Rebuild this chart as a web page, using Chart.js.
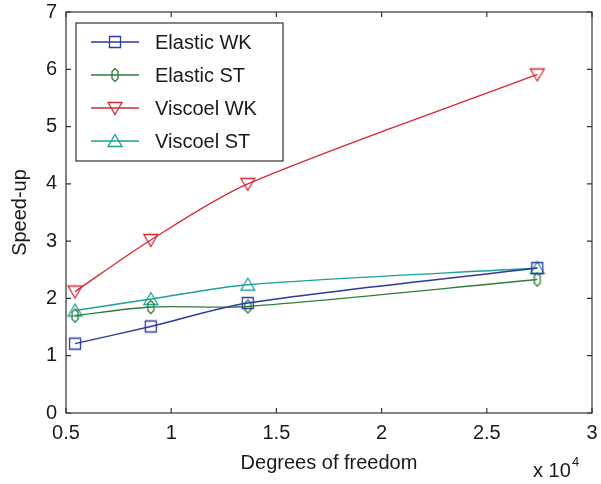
<!DOCTYPE html>
<html>
<head>
<meta charset="utf-8">
<script src="https://cdn.jsdelivr.net/npm/chart.js@4/dist/chart.umd.min.js"></script>
<style>
  html, body { margin: 0; padding: 0; background: #fff; }
  #wrap { width: 601px; height: 484px; }
</style>
</head>
<body>
<div id="wrap"><canvas id="c" width="601" height="484"></canvas></div>
<script>
// Degrees of freedom (x 10^4)
const dof = [0.543, 0.903, 1.364, 2.74];

const elasticWK = [1.21, 1.51, 1.92, 2.53];
const elasticST = [1.70, 1.85, 1.86, 2.33];
const viscoelWK = [2.12, 3.02, 4.00, 5.91];
const viscoelST = [1.79, 1.99, 2.24, 2.53];

const seriesNames = ['Elastic WK', 'Elastic ST', 'Viscoel WK', 'Viscoel ST'];
const colors = ['#2b3a9b', '#2e7d3c', '#d42a35', '#1d9f9a'];

const FONT = '"Liberation Sans", Arial, Helvetica, sans-serif';

// marker pictures, drawn once into small canvases
function marker(kind, color) {
    const c = document.createElement('canvas');
    c.width = 18; c.height = 18;
    const g = c.getContext('2d');
    g.strokeStyle = color;
    g.lineWidth = 1.3;
    g.beginPath();
    if (kind === 'square') {
        g.rect(3.5, 3.5, 11, 11);
    } else if (kind === 'hex') {
        g.moveTo(9, 2.5); g.lineTo(12, 5.5); g.lineTo(12, 12.5);
        g.lineTo(9, 15.5); g.lineTo(6, 12.5); g.lineTo(6, 5.5); g.closePath();
    } else if (kind === 'down') {
        g.moveTo(2, 3.5); g.lineTo(16, 3.5); g.lineTo(9, 15.5); g.closePath();
    } else {
        g.moveTo(2, 14.5); g.lineTo(16, 14.5); g.lineTo(9, 2.5); g.closePath();
    }
    g.stroke();
    return c;
}
const markers = [
    marker('square', colors[0]),
    marker('hex', colors[1]),
    marker('down', colors[2]),
    marker('up', colors[3])
];

function toPoints(ys) {
    return dof.map((x, i) => ({ x: x, y: ys[i] }));
}

const allSeries = [elasticWK, elasticST, viscoelWK, viscoelST];

const datasets = allSeries.map((ys, i) => ({
    label: seriesNames[i],
    data: toPoints(ys),
    borderColor: colors[i],
    borderWidth: 1.4,
    pointStyle: markers[i],
    tension: 0.3,
    fill: false
}));

// frame, inward ticks, axis titles and the legend box
const framePlugin = {
    id: 'frame',
    afterDraw(chart) {
        const ctx = chart.ctx;
        const a = chart.chartArea;
        const xs = chart.scales.x, ys = chart.scales.y;
        ctx.save();
        ctx.strokeStyle = '#333';
        ctx.lineWidth = 1.2;
        ctx.strokeRect(a.left, a.top, a.right - a.left, a.bottom - a.top);
        ctx.beginPath();
        xs.ticks.forEach(t => {
            const px = xs.getPixelForValue(t.value);
            ctx.moveTo(px, a.bottom); ctx.lineTo(px, a.bottom - 5);
            ctx.moveTo(px, a.top); ctx.lineTo(px, a.top + 5);
        });
        ys.ticks.forEach(t => {
            const py = ys.getPixelForValue(t.value);
            ctx.moveTo(a.left, py); ctx.lineTo(a.left + 5, py);
            ctx.moveTo(a.right, py); ctx.lineTo(a.right - 5, py);
        });
        ctx.stroke();

        ctx.fillStyle = '#1a1a1a';
        ctx.font = '20px ' + FONT;
        ctx.textAlign = 'center';
        ctx.textBaseline = 'middle';
        ctx.fillText('Degrees of freedom', (a.left + a.right) / 2, 463);
        ctx.save();
        ctx.translate(20, (a.top + a.bottom) / 2);
        ctx.rotate(-Math.PI / 2);
        ctx.fillText('Speed-up', 0, 0);
        ctx.restore();
        ctx.textAlign = 'left';
        ctx.fillText('x 10', 533, 471);
        ctx.font = '13px ' + FONT;
        ctx.fillText('4', 572, 462);

        // legend
        ctx.fillStyle = '#fff';
        ctx.fillRect(76, 23, 207, 138);
        ctx.strokeStyle = '#333';
        ctx.lineWidth = 1.2;
        ctx.strokeRect(76, 23, 207, 138);
        ctx.font = '20px ' + FONT;
        ctx.textBaseline = 'middle';
        seriesNames.forEach((name, i) => {
            const y = 42 + i * 33;
            ctx.strokeStyle = colors[i];
            ctx.lineWidth = 1.4;
            ctx.beginPath();
            ctx.moveTo(91, y); ctx.lineTo(139, y);
            ctx.stroke();
            ctx.drawImage(markers[i], 115 - 9, y - 9);
            ctx.fillStyle = '#1a1a1a';
            ctx.fillText(name, 155, y + 1);
        });
        ctx.restore();
    }
};

new Chart(document.getElementById('c'), {
    type: 'line',
    data: { datasets: datasets },
    options: {
        responsive: false,
        animation: false,
        layout: { padding: { top: 12, right: 9, left: 0, bottom: 0 } },
        plugins: { legend: { display: false }, tooltip: { enabled: false } },
        scales: {
            x: {
                type: 'linear',
                min: 0.5, max: 3,
                afterFit: s => { s.height = 71; s.paddingLeft = 0; s.paddingRight = 0; },
                grid: { display: false, drawTicks: false },
                border: { display: false },
                ticks: { stepSize: 0.5, color: '#1a1a1a', padding: 8, maxRotation: 0,
                         callback: v => String(v),
                         font: { family: FONT, size: 20 } }
            },
            y: {
                min: 0, max: 7,
                afterFit: s => { s.width = 66; s.paddingTop = 0; s.paddingBottom = 0; },
                grid: { display: false, drawTicks: false },
                border: { display: false },
                ticks: { stepSize: 1, color: '#1a1a1a', padding: 9,
                         font: { family: FONT, size: 20 } }
            }
        }
    },
    plugins: [framePlugin]
});
</script>
</body>
</html>
